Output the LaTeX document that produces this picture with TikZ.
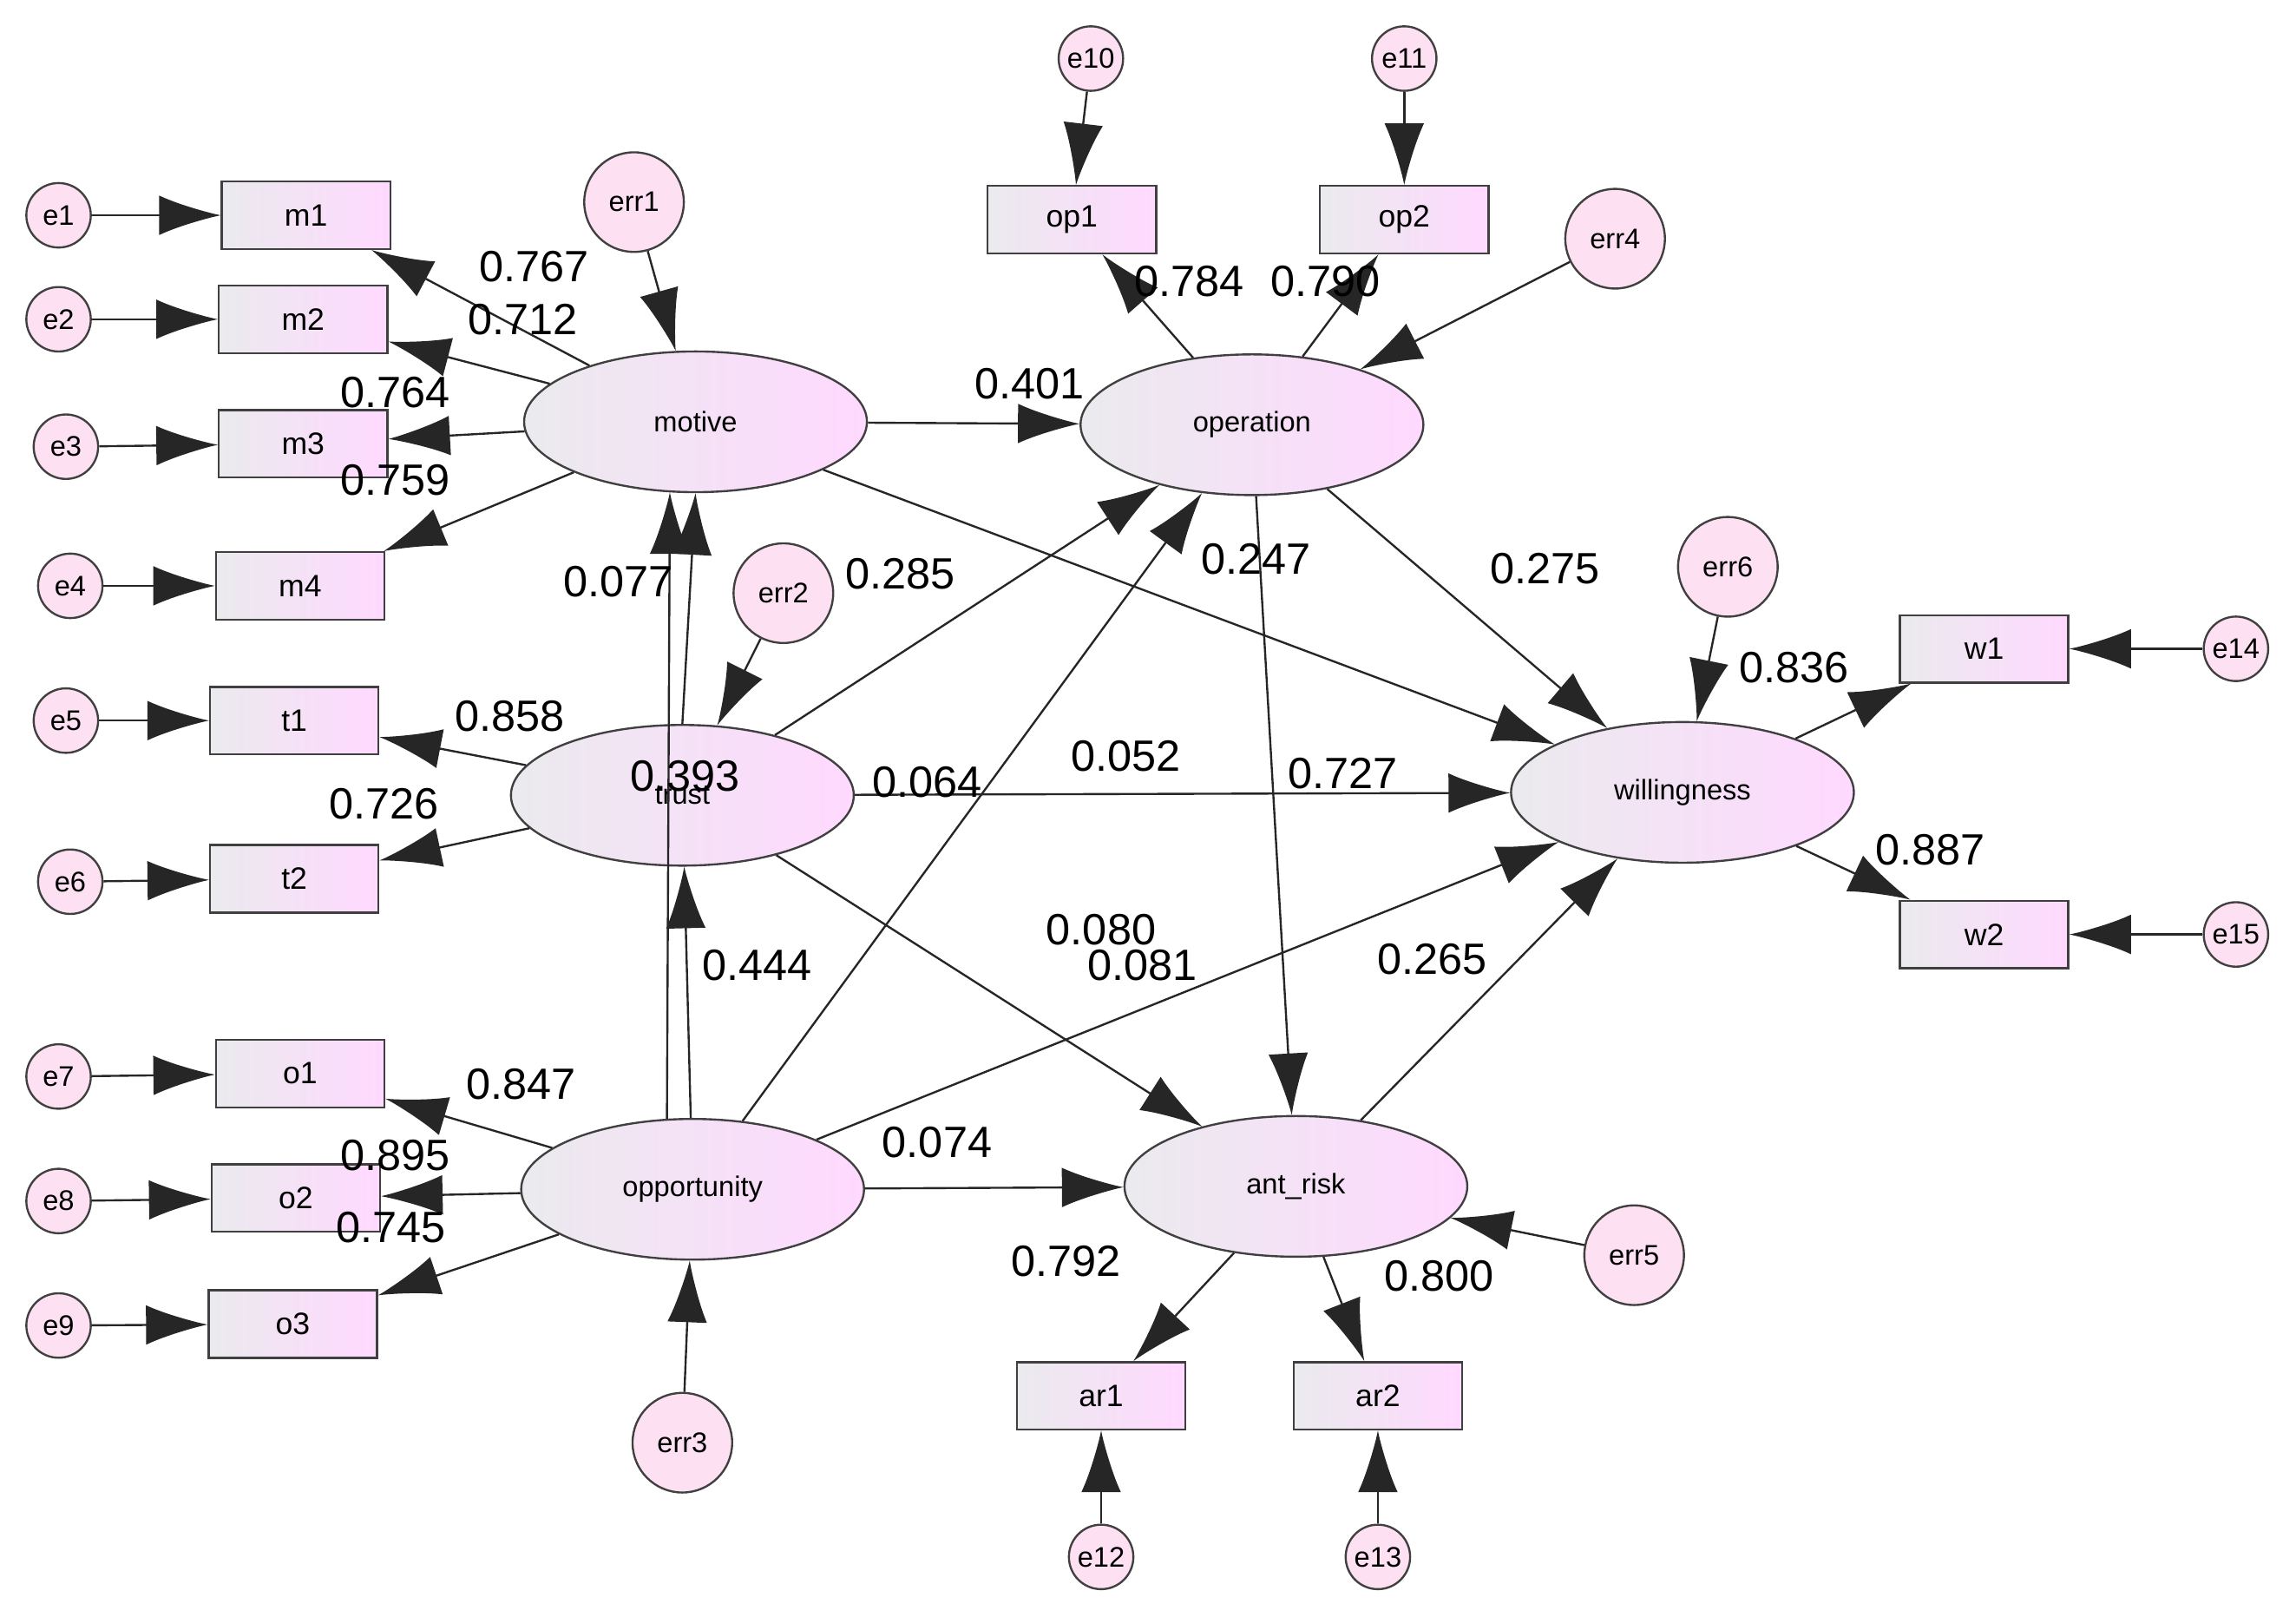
\documentclass[tikz,border=0pt]{standalone}
\usepackage{fontspec}
\setmainfont{Liberation Sans}
\usetikzlibrary{arrows.meta,shapes.geometric}
\tikzset{
  obs/.style={draw=black!75, rectangle, inner sep=1pt, minimum width=1.15cm, minimum height=0.46cm, left color=blue!8!gray!15, right color=magenta!15, font=\fontsize{6}{7}\selectfont},
  lat/.style={draw=black!75, ellipse, inner sep=1pt, minimum width=2.34cm, minimum height=0.96cm, left color=blue!8!gray!15, right color=magenta!15, font=\fontsize{5.5}{7}\selectfont},
  err/.style={draw=black!75, circle, minimum size=0.44cm, inner sep=0pt, fill=magenta!12, font=\fontsize{5.5}{7}\selectfont},
  bigerr/.style={err, minimum size=0.68cm},
  coef/.style={font=\fontsize{8.5}{10}\selectfont},
  arr/.style={-{Latex[length=0.42cm,width=0.27cm]}, black!85, thin}
}
\begin{document}
\begin{tikzpicture}[x=0.01cm, y=-0.01cm]
\useasboundingbox (0,0) rectangle (1568,1104);
% latent variables
\node[lat] (motive) at (475,288) {motive};
\node[lat] (trust) at (466,543) {trust};
\node[lat] (opp) at (473,812) {opportunity};
\node[lat] (oper) at (855,290) {operation};
\node[lat] (will) at (1149,541) {willingness};
\node[lat] (risk) at (885,810) {ant\_risk};
% observed
\node[obs] (m1) at (209,147) {m1};
\node[obs] (m2) at (207,218) {m2};
\node[obs] (m3) at (207,303) {m3};
\node[obs] (m4) at (205,400) {m4};
\node[obs] (t1) at (201,492) {t1};
\node[obs] (t2) at (201,600) {t2};
\node[obs] (o1) at (205,733) {o1};
\node[obs] (o2) at (202,818) {o2};
\node[obs] (o3) at (200,904) {o3};
\node[obs] (op1) at (732,150) {op1};
\node[obs] (op2) at (959,150) {op2};
\node[obs] (w1) at (1355,443) {w1};
\node[obs] (w2) at (1355,638) {w2};
\node[obs] (ar1) at (752,953) {ar1};
\node[obs] (ar2) at (941,953) {ar2};
% errors
\node[err] (e1) at (40,147) {e1};
\node[err] (e2) at (40,218) {e2};
\node[err] (e3) at (45,305) {e3};
\node[err] (e4) at (48,400) {e4};
\node[err] (e5) at (45,492) {e5};
\node[err] (e6) at (48,602) {e6};
\node[err] (e7) at (40,735) {e7};
\node[err] (e8) at (40,820) {e8};
\node[err] (e9) at (40,905) {e9};
\node[err] (e10) at (745,40) {e10};
\node[err] (e11) at (959,40) {e11};
\node[err] (e12) at (752,1063) {e12};
\node[err] (e13) at (941,1063) {e13};
\node[err] (e14) at (1527,443) {e14};
\node[err] (e15) at (1527,638) {e15};
\node[bigerr] (err1) at (433,138) {err1};
\node[bigerr] (err2) at (535,405) {err2};
\node[bigerr] (err3) at (466,985) {err3};
\node[bigerr] (err4) at (1103,163) {err4};
\node[bigerr] (err5) at (1116,857) {err5};
\node[bigerr] (err6) at (1180,387) {err6};
% measurement paths
\foreach \a/\b in {e1/m1,e2/m2,e3/m3,e4/m4,e5/t1,e6/t2,e7/o1,e8/o2,e9/o3,
  e10/op1,e11/op2,e12/ar1,e13/ar2,e14/w1,e15/w2,
  motive/m1,motive/m2,motive/m3,motive/m4,trust/t1,trust/t2,opp/o1,opp/o2,opp/o3,
  oper/op1,oper/op2,will/w1,will/w2,risk/ar1,risk/ar2,
  err1/motive,err2/trust,err3/opp,err4/oper,err5/risk,err6/will}
  \draw[arr] (\a) -- (\b);
% structural paths
\draw[arr] (trust.north) -- (motive.south);
\draw[arr] (opp.110) -- (motive.250);
\draw[arr] (opp) -- (trust);
\foreach \a/\b in {motive/oper,motive/will,trust/oper,opp/oper,trust/will,trust/risk,
  opp/will,opp/risk,oper/will,oper/risk,risk/will}
  \draw[arr] (\a) -- (\b);
% coefficients
\foreach \x/\y/\t in {365/182/0.767,357/218/0.712,270/268/0.764,270/328/0.759,
  422/397/0.077,615/392/0.285,348/489/0.858,468/530/0.393,262/549/0.726,
  633/534/0.064,769/516/0.052,917/528/0.727,752/635/0.080,780/659/0.081,
  517/659/0.444,356/740/0.847,270/789/0.895,267/838/0.745,640/780/0.074,
  703/262/0.401,812/192/0.784,905/192/0.790,858/382/0.247,1055/388/0.275,
  1225/456/0.836,1318/580/0.887,978/655/0.265,728/861/0.792,983/871/0.800}
  \node[coef] at (\x,\y) {\t};
\end{tikzpicture}
\end{document}
